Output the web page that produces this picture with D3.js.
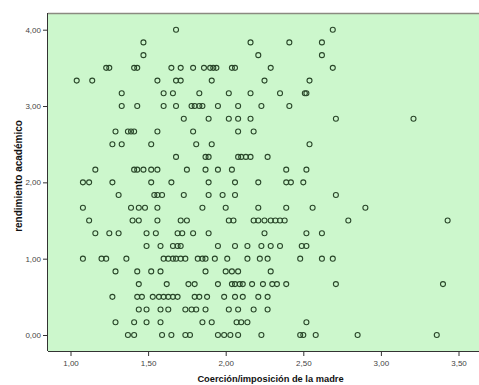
<!DOCTYPE html>
<html>
<head>
<meta charset="utf-8">
<script src="https://cdn.jsdelivr.net/npm/d3@7"></script>
<style>
  html, body { margin: 0; padding: 0; background: #ffffff; }
  svg { display: block; }
</style>
</head>
<body>
<svg id="chart" width="479" height="385"></svg>
<script>
// ---- data ----
const xTicks = [1.0, 1.5, 2.0, 2.5, 3.0, 3.5];
const yTicks = [0, 1, 2, 3, 4];
const xTitle = "Coerción/imposición de la madre";
const yTitle = "rendimiento académico";

// y levels (rendimiento académico), one per row of points
const rowY = [4.0, 3.8333, 3.6667, 3.5, 3.3333, 3.1667, 3.0, 2.8333, 2.6667, 2.5, 2.3333, 2.1667, 2.0,
              1.8333, 1.6667, 1.5, 1.3333, 1.1667, 1.0, 0.8333, 0.6667, 0.5, 0.3333, 0.1667, 0.0];
// x values (Coerción/imposición de la madre) of the points in each row
const rowX = [
  [1.68, 2.69],
  [1.47, 2.16, 2.41, 2.62],
  [1.47, 2.21, 2.62],
  [1.23, 1.25, 1.41, 1.43, 1.65, 1.71, 1.79, 1.86, 1.90, 1.92, 1.94, 2.04, 2.06, 2.29, 2.69],
  [1.04, 1.14, 1.56, 1.68, 1.71, 1.91, 2.25, 2.54],
  [1.33, 1.60, 1.66, 1.83, 2.02, 2.16, 2.35, 2.51, 2.52],
  [1.33, 1.43, 1.60, 1.68, 1.78, 1.80, 1.83, 1.85, 1.95, 2.08, 2.23, 2.41],
  [1.73, 1.89, 2.02, 2.08, 2.16, 2.71, 3.21],
  [1.29, 1.37, 1.39, 1.41, 1.56, 1.79, 2.08, 2.18],
  [1.27, 1.33, 1.52, 1.81, 1.91, 2.54],
  [1.68, 1.87, 1.89, 2.08, 2.10, 2.13, 2.16, 2.27],
  [1.16, 1.41, 1.43, 1.47, 1.52, 1.56, 1.75, 1.87, 1.95, 2.04, 2.39, 2.52],
  [1.08, 1.12, 1.27, 1.52, 1.65, 1.89, 2.06, 2.21, 2.39, 2.42, 2.50],
  [1.31, 1.54, 1.56, 1.59, 1.73, 1.89, 1.98, 2.06, 2.71],
  [1.08, 1.39, 1.44, 1.48, 1.56, 1.85, 2.00, 2.21, 2.39, 2.56, 2.90],
  [1.12, 1.40, 1.44, 1.56, 1.71, 1.75, 2.02, 2.05, 2.18, 2.21, 2.25, 2.29, 2.32, 2.35, 2.38, 2.79, 3.43],
  [1.16, 1.25, 1.31, 1.49, 1.55, 1.69, 1.72, 1.79, 1.89, 2.25, 2.52, 2.62],
  [1.49, 1.58, 1.66, 1.69, 1.71, 1.95, 2.06, 2.14, 2.23, 2.29, 2.35, 2.49, 2.52],
  [1.08, 1.20, 1.23, 1.36, 1.60, 1.63, 1.66, 1.68, 1.71, 1.74, 1.82, 1.85, 1.87, 1.93, 2.01, 2.14, 2.22, 2.27, 2.48, 2.62, 2.69],
  [1.29, 1.43, 1.52, 1.58, 1.87, 2.00, 2.04, 2.08, 2.29],
  [1.44, 1.62, 1.76, 1.80, 1.95, 2.04, 2.06, 2.09, 2.11, 2.17, 2.24, 2.30, 2.33, 2.39, 2.71, 3.40],
  [1.27, 1.43, 1.46, 1.53, 1.57, 1.60, 1.63, 1.66, 1.69, 1.80, 1.83, 1.88, 1.99, 2.06, 2.11, 2.21, 2.27],
  [1.44, 1.49, 1.58, 1.63, 1.74, 1.78, 1.81, 1.87, 2.02, 2.08, 2.18, 2.27],
  [1.29, 1.41, 1.49, 1.58, 1.85, 1.91, 2.07, 2.10, 2.14, 2.52],
  [1.37, 1.41, 1.59, 1.65, 1.74, 1.77, 1.95, 1.99, 2.03, 2.08, 2.23, 2.48, 2.50, 2.58, 2.85, 3.36]
];

// ---- layout ----
const plot = { left: 48, top: 13, right: 480, bottom: 351 };
const svg = d3.select("#chart");

const x = d3.scaleLinear().domain([1, 3.5]).range([70.5, 458.5]);
const y = d3.scaleLinear().domain([0, 4]).range([335, 29.7]);
const fmt = v => d3.format(".2f")(v).replace(".", ",");

// plot background
svg.append("rect")
  .attr("x", plot.left).attr("y", plot.top)
  .attr("width", plot.right - plot.left).attr("height", plot.bottom - plot.top)
  .attr("fill", "#ccf7cc");

// frame lines
svg.append("line").attr("x1", plot.left).attr("x2", plot.right)
  .attr("y1", plot.top + 0.5).attr("y2", plot.top + 0.5)
  .attr("stroke", "#8a8a80").attr("stroke-width", 1.5);
svg.append("line").attr("x1", plot.left - 0.5).attr("x2", plot.left - 0.5)
  .attr("y1", plot.top).attr("y2", plot.bottom)
  .attr("stroke", "#333").attr("stroke-width", 1);
svg.append("line").attr("x1", plot.left).attr("x2", plot.right)
  .attr("y1", plot.bottom + 0.5).attr("y2", plot.bottom + 0.5)
  .attr("stroke", "#333").attr("stroke-width", 1);

// axes
const yAxis = d3.axisLeft(y).tickValues(yTicks).tickFormat(fmt).tickSize(4).tickSizeOuter(0).tickPadding(2);
const gy = svg.append("g").attr("transform", `translate(${plot.left - 1},0)`).call(yAxis);
gy.select(".domain").remove();
gy.selectAll(".tick line").attr("stroke", "#333");
gy.selectAll(".tick text").attr("fill", "#444").style("font-family", "Liberation Sans, Arial, sans-serif").style("font-size", "8px");

const xAxis = d3.axisBottom(x).tickValues(xTicks).tickFormat(fmt).tickSize(4).tickSizeOuter(0).tickPadding(4);
const gx = svg.append("g").attr("transform", `translate(0,${plot.bottom + 1})`).call(xAxis);
gx.select(".domain").remove();
gx.selectAll(".tick line").attr("stroke", "#333");
gx.selectAll(".tick text").attr("fill", "#444").style("font-family", "Liberation Sans, Arial, sans-serif").style("font-size", "8px");

// points
const pts = [];
rowY.forEach((yv, i) => rowX[i].forEach(xv => pts.push([xv, yv])));
svg.append("g").selectAll("circle").data(pts).join("circle")
  .attr("cx", d => x(d[0])).attr("cy", d => y(d[1]))
  .attr("r", 2.5)
  .attr("fill", "none")
  .attr("stroke", "#2a472a")
  .attr("stroke-width", 1.1);

// titles
svg.append("text")
  .attr("x", 270.5).attr("y", 382)
  .attr("text-anchor", "middle")
  .style("font-family", "Liberation Sans, Arial, sans-serif")
  .style("font-size", "9.3px").style("font-weight", "bold").attr("fill", "#111")
  .text(xTitle);

svg.append("text")
  .attr("transform", "translate(22,176) rotate(-90)")
  .attr("text-anchor", "middle")
  .style("font-family", "Liberation Sans, Arial, sans-serif")
  .style("font-size", "10px").style("font-weight", "bold").attr("fill", "#111")
  .text(yTitle);
</script>
</body>
</html>
